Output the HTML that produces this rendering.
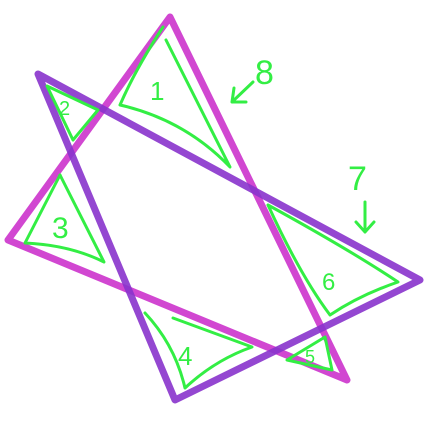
<!DOCTYPE html>
<html><head><meta charset="utf-8"><style>html,body{margin:0;padding:0;background:#fff}svg{display:block}</style></head>
<body>
<svg width="438" height="422" viewBox="0 0 438 422">
<g fill="none" stroke-linejoin="round" stroke-linecap="round">
<polygon points="170,17 347,380 8,240" stroke="#cc33cc" stroke-width="7" opacity="0.9"/>
<polygon points="38,74 420,280 175,400" stroke="#8833cc" stroke-width="7" opacity="0.9"/>
<g stroke="#33ee44" stroke-width="3">
<path d="M163,27 Q135,70 120,105 Q185,120 230,167 L166,40"/>
<path d="M47,86 L98,110 L73,140 Z"/>
<path d="M60,175 L25,243 Q70,245 104,262 L60,175"/>
<path d="M268,205 Q300,275 330,315 Q360,295 398,282 Q350,250 268,205"/>
<path d="M145,313 Q175,345 185,388 Q215,360 252,347 L173,318"/>
<path d="M287,360 L325,337 L332,370 Z"/>
<path d="M253,82 L232,102 M232,102 L234,88 M232,102 L246,102"/>
<path d="M365,202 L365,232 M365,232 L356,222 M365,232 L374,222"/>
</g>
<g fill="#33ee44" font-family="Liberation Sans, sans-serif" font-size="30">
<text x="150" y="100" font-size="26">1</text>
<text x="59" y="115" font-size="20">2</text>
<text x="52" y="238">3</text>
<text x="178" y="365" font-size="26">4</text>
<text x="305" y="363" font-size="18">5</text>
<text x="322" y="290" font-size="24">6</text>
<text x="348" y="190" font-size="34">7</text>
<text x="255" y="84" font-size="34">8</text>
</g>
</g>
</svg>
</body></html>
